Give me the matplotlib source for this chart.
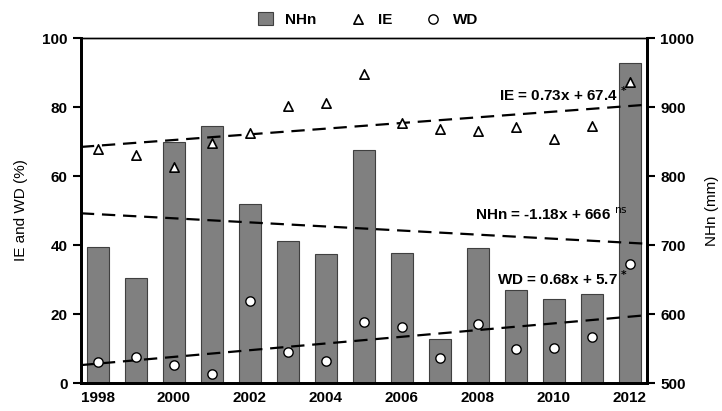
import matplotlib
matplotlib.use('Agg')
import matplotlib.pyplot as plt
import numpy as np

plt.rcParams['font.family'] = ['Liberation Sans', 'DejaVu Sans']

years = np.arange(1998, 2013)
# precipitation NHn (mm)
nhn = [697, 652, 850, 872, 759, 706, 687, 838, 688, 564, 696, 635, 622, 629, 964]
# IE (%)
ie = [67.7, 66.0, 62.6, 69.7, 72.5, 80.2, 81.3, 89.5, 75.4, 73.5, 73.0, 74.2, 70.8, 74.6, 87.3]
# WD (%)
wd = [6.1, 7.5, 5.2, 2.6, 23.8, 9.1, 6.4, 17.8, 16.2, 7.3, 17.0, 9.8, 10.1, 13.3, 34.4]

fig = plt.figure(figsize=(7.22, 4.11), dpi=100)
ax = fig.add_axes([0.112, 0.068, 0.784, 0.8395])
ax2 = ax.twinx()

xlim = (1997.55, 2012.45)
xx = np.array(xlim)
dash = (0, (6, 3.5))

ax2.bar(years, nhn, width=0.58, bottom=0, color='#808080', edgecolor='#404040', linewidth=0.8, label='NHn', zorder=1)
ax2.set_ylim(500, 1000)
ax2.set_yticks([500, 600, 700, 800, 900, 1000])

# trend lines, fitted from the data
p_nhn = np.polyfit(years, nhn, 1)
ax2.plot(xx, np.polyval(p_nhn, xx), ls=dash, color='black', lw=1.6, zorder=2)

ax.set_zorder(ax2.get_zorder() + 1)
ax.patch.set_visible(False)

p_ie = np.polyfit(years, ie, 1)
p_wd = np.polyfit(years, wd, 1)
ax.plot(xx, np.polyval(p_ie, xx), ls=dash, color='black', lw=1.6)
ax.plot(xx, np.polyval(p_wd, xx), ls=dash, color='black', lw=1.6)

ax.scatter(years, ie, marker='^', s=45, facecolor='white', edgecolor='black', linewidth=1.2, label='IE', zorder=3)
ax.scatter(years, wd, marker='o', s=45, facecolor='white', edgecolor='black', linewidth=1.0, label='WD', zorder=3)

ax.set_xlim(*xlim)
ax.set_ylim(0, 100)
ax.set_xticks(np.arange(1998, 2013, 2))
ax.set_yticks(np.arange(0, 101, 20))
ax.set_ylabel('IE and WD (%)', fontsize=11, labelpad=10)
ax2.set_ylabel('NHn (mm)', fontsize=11, labelpad=8)

for a in (ax, ax2):
    for s in a.spines.values():
        s.set_linewidth(1.0)
    a.spines['left'].set_linewidth(2)
    a.spines['right'].set_linewidth(2)
    a.spines['bottom'].set_linewidth(2)
    a.tick_params(axis='y', direction='out', length=6, width=1.5, labelsize=11)
    for lab in a.get_yticklabels():
        lab.set_fontweight('bold')
ax.tick_params(axis='x', length=0, labelsize=11, pad=6)
for lab in ax.get_xticklabels():
    lab.set_fontweight('bold')

ax.text(2011.95, 81.0, 'IE = 0.73x + 67.4 $^{\\mathbf{*}}$', ha='right', va='bottom', fontsize=11, fontweight='bold')
ax.text(2011.95, 46.5, 'NHn = -1.18x + 666 $^{\\mathrm{ns}}$', ha='right', va='bottom', fontsize=11, fontweight='bold')
ax.text(2011.95, 27.5, 'WD = 0.68x + 5.7 $^{\\mathbf{*}}$', ha='right', va='bottom', fontsize=11, fontweight='bold')

h1, l1 = ax2.get_legend_handles_labels()
h2, l2 = ax.get_legend_handles_labels()
fig.legend(h1 + h2, l1 + l2, loc='upper center', bbox_to_anchor=(0.51, 1.005), ncol=3, frameon=False,
           prop={'size': 11, 'weight': 'bold'}, handlelength=1.0, handleheight=1.0,
           handletextpad=0.8, columnspacing=2.2)

fig.savefig('out.png', dpi=100)
